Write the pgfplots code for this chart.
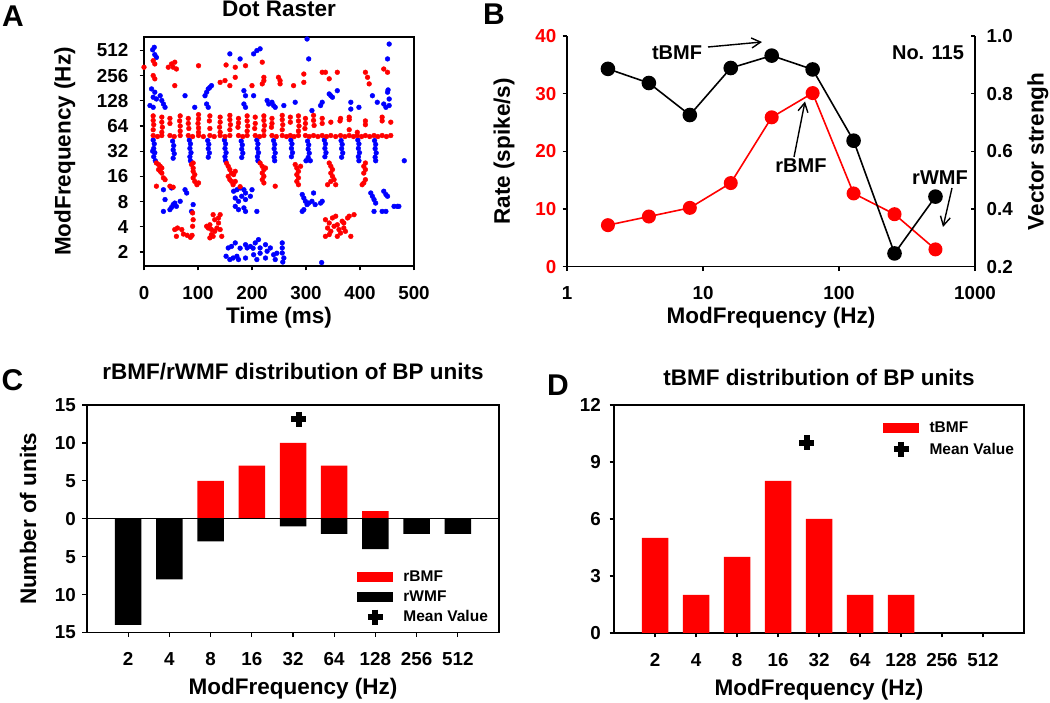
\documentclass[border=0pt]{standalone}
\usepackage{fontspec}
\setmainfont{Liberation Sans}
\usepackage{pgfplots}
\pgfplotsset{compat=1.18}
\usetikzlibrary{arrows.meta}

\newcommand{\ftick}{\fontsize{18.8}{20}\selectfont\bfseries}
\newcommand{\flab}{\fontsize{22.5}{25}\selectfont\bfseries}
\newcommand{\fann}{\fontsize{20}{22}\selectfont\bfseries}
\newcommand{\fleg}{\fontsize{15.5}{17}\selectfont\bfseries}
\newcommand{\fpanel}{\fontsize{30}{32}\selectfont\bfseries}

\pgfplotsset{
 base/.style={
  scale only axis, anchor=south west,
  axis line style={line width=1.5pt},
  tick align=outside, tick pos=left,
  major tick length=4.5pt,
  every tick/.style={black, line width=1.3pt},
  tick label style={font=\ftick, /pgf/number format/assume math mode=true, inner sep=0pt},
  xticklabel style={anchor=north, text height=13pt, text depth=0pt, yshift=-15.5pt},
  title style={font=\flab, anchor=center},
  label style={font=\flab},
  xlabel style={anchor=center},
  ylabel style={anchor=center},
 },
 barleg/.style={legend image code/.code={\fill[##1,draw=none] (0pt,-5pt) rectangle (36pt,5pt); \path (0pt,-7pt) (46pt,7pt);}},
 markleg/.style={legend image code/.code={\begin{pgfinterruptboundingbox}\draw[##1] plot coordinates {(18pt,0pt)};\end{pgfinterruptboundingbox}\path (0pt,-7pt) (46pt,7pt);}},
}

\begin{document}
\begin{tikzpicture}
\path[use as bounding box] (0pt,0pt) rectangle (1050pt,703pt);

%================ Panel A =================
\begin{axis}[base,
  at={(144pt,437pt)}, width=270pt, height=229pt,
  xmin=0, xmax=500, ymin=0.444, ymax=9.53,
  xtick={0,100,...,500},
  ytick={1,...,9}, yticklabels={2,4,8,16,32,64,128,256,512},
  yticklabel style={anchor=east, xshift=-11pt},
  title={Dot Raster}, xlabel={Time (ms)}, ylabel={ModFrequency (Hz)},
  title style={at={(axis description cs:0.5,1.096)}},
  xlabel style={at={(axis description cs:0.5,-0.227)}},
  ylabel style={at={(axis description cs:-0.293,0.5)}},
]
% blue spikes (2, 8, 32, 128, 512 Hz)
\addplot[only marks, mark=*, mark size=2.4pt, blue, mark options={draw=blue, fill=blue}] coordinates {
(156,1.16)(162,1.22)(152,0.83)(159,0.70)(165,0.76)(169,1.36)(188,1.29)(191,1.16)(197,1.22)(206,1.36)
(212,1.49)(215,1.16)(225,1.29)(228,1.03)(234,1.16)(240,0.89)(256,1.36)(256,1.16)(256,0.96)(259,0.76)
(172,0.83)(175,0.70)(188,0.76)(203,0.89)(209,0.70)(225,0.76)(243,0.70)(329,0.58)(178,1.15)(202,1.15)
(215,0.95)(246,0.95)(257,0.60)
(36,3.47)(51,3.54)(76,3.47)(79,3.34)(39,3.08)(36,2.61)(48,2.68)(51,2.77)(54,2.88)(57,2.94)
(60,2.81)(67,3.01)(88,2.61)(91,2.88)(166,3.41)(172,3.47)(178,3.54)(185,3.47)(188,3.34)(169,3.14)
(175,3.01)(181,3.21)(188,3.08)(197,3.21)(200,3.47)(169,2.81)(175,2.68)(185,2.75)(188,2.61)(209,2.61)
(293,3.28)(296,3.14)(299,3.01)(302,2.88)(305,2.94)(311,3.01)(314,3.34)(317,2.88)(327,2.94)(330,3.01)
(296,2.68)(293,2.61)(420,3.34)(423,3.21)(426,3.08)(429,2.94)(426,2.61)(441,2.61)(444,3.41)(448,3.28)
(448,2.61)(463,2.81)(469,2.81)(472,2.81)(451,3.21)
(17,5.44)(19,5.29)(18,5.11)(20,4.94)(18,4.78)(21,4.62)(16,5.00)
(53,5.40)(55,5.22)(54,5.05)(56,4.90)(54,4.72)
(84,5.44)(86,5.29)(85,5.11)(87,4.94)(85,4.78)(86,4.62)
(118,5.42)(120,5.27)(119,5.10)(121,4.93)(119,4.76)
(149,5.44)(151,5.29)(150,5.11)(152,4.94)(150,4.78)(151,4.62)
(180,5.40)(182,5.25)(181,5.08)(183,4.92)(181,4.75)
(209,5.44)(211,5.29)(210,5.11)(212,4.94)(210,4.78)(211,4.62)
(240,5.42)(242,5.27)(241,5.10)(243,4.93)(241,4.76)(242,4.62)
(272,5.44)(274,5.29)(273,5.11)(275,4.94)(273,4.78)
(303,5.40)(305,5.25)(304,5.08)(306,4.92)(304,4.75)(300,4.62)(308,4.62)
(334,5.44)(336,5.29)(335,5.11)(337,4.94)(335,4.78)
(365,5.42)(367,5.27)(366,5.10)(368,4.93)(366,4.76)
(396,5.44)(398,5.29)(397,5.11)(399,4.94)(397,4.78)(398,4.62)
(427,5.42)(429,5.27)(428,5.10)(430,4.93)(428,4.76)(429,4.62)
(482,4.62)
(14,7.47)(20,7.34)(17,7.14)(23,7.07)(30,7.20)(33,7.01)(36,6.87)(39,6.74)(11,6.81)(17,6.74)
(76,7.20)(94,6.74)(113,7.20)(116,7.34)(119,7.47)(122,7.53)(125,7.60)(116,6.87)(119,6.74)(185,7.40)
(188,7.20)(185,6.87)(188,6.74)(203,7.20)(228,7.01)(231,6.87)(237,6.94)(240,6.81)(243,6.74)(259,6.81)
(280,6.94)(311,6.61)(327,6.81)(330,6.94)(358,7.40)(346,7.20)(349,7.14)(343,7.27)(383,6.94)(383,6.67)
(398,6.74)(423,7.20)(432,6.94)(444,6.87)(448,6.74)(454,6.81)(451,7.34)(454,7.07)(452,7.43)
(19,9.12)(16,9.02)(20,8.83)(23,8.72)(159,8.86)(178,8.66)(203,8.86)(209,8.99)(215,9.06)(302,9.45)
(305,8.66)(454,9.25)(451,8.66)
};
% red spikes (4, 16, 64, 256 Hz)
\addplot[only marks, mark=*, mark size=2.4pt, red, mark options={draw=red, fill=red}] coordinates {
(57,1.89)(62,1.95)(70,1.89)(60,1.62)(73,1.71)(80,1.66)(86,1.58)(89,1.66)(90,2.02)(91,2.28)
(90,2.55)(116,2.02)(119,1.95)(122,2.08)(125,1.89)(125,1.69)(128,1.62)(122,1.56)(131,1.82)(135,1.95)
(138,2.15)(138,2.35)(141,2.48)(141,1.89)(144,1.62)(131,2.28)(128,2.48)
(336,2.28)(343,2.15)(349,2.35)(355,2.42)(340,1.95)(346,1.82)(352,2.02)(358,2.08)(361,1.89)(364,1.75)
(367,2.22)(370,1.95)(373,1.82)(377,2.35)(380,2.42)(383,1.62)(389,2.48)(336,1.62)(343,1.69)(358,1.62)
(370,2.15)
(23,4.53)(27,4.47)(30,4.40)(33,4.33)(27,4.27)(30,4.20)(33,4.13)(36,3.94)(39,3.87)(23,3.61)
(48,3.61)(54,3.57)
(88,4.47)(91,4.33)(91,4.20)(94,4.07)(91,3.94)(94,3.80)(98,3.67)(101,3.74)(91,4.53)
(156,4.40)(159,4.27)(162,4.13)(156,4.00)(159,3.87)(162,3.80)(165,3.67)(169,4.20)(166,4.07)(169,3.80)
(178,3.59)(153,4.52)
(215,4.53)(219,4.40)(222,4.27)(219,4.13)(222,4.00)(219,3.87)(222,3.74)(225,4.33)(243,3.61)
(280,4.47)(283,4.33)(286,4.20)(283,4.07)(286,3.94)(283,3.80)(286,3.67)(290,4.40)
(343,4.53)(346,4.40)(349,4.27)(346,4.13)(349,4.00)(352,3.87)(346,3.80)(355,3.67)(340,3.67)
(410,4.53)(407,4.40)(410,4.27)(407,4.13)(410,3.87)(407,3.74)(404,3.67)
(17,6.40)(17,6.22)(18,6.05)(17,5.85)(17,5.62)
(33,6.35)(33,6.15)(34,5.95)(33,5.75)(33,5.62)
(48,6.30)(48,6.10)(48,5.62)
(67,6.40)(66,6.20)(67,6.00)(67,5.80)(67,5.62)
(82,6.30)(82,6.10)(83,5.90)(82,5.62)
(101,6.45)(101,6.28)(100,6.10)(101,5.92)(101,5.75)(101,5.62)
(122,6.40)(121,6.20)(122,5.90)(122,5.62)
(141,6.35)(141,6.15)(140,5.95)(141,5.75)(141,5.62)
(159,6.42)(159,6.25)(160,6.05)(159,5.85)(159,5.62)
(175,6.30)(175,6.12)(174,5.95)(175,5.62)
(191,6.40)(191,6.20)(192,6.00)(191,5.80)(191,5.62)
(206,6.35)(206,6.10)(205,5.90)(206,5.62)
(222,6.40)(222,6.22)(223,6.02)(222,5.82)(222,5.62)
(237,6.30)(237,6.10)(236,5.95)(237,5.62)
(256,6.42)(256,6.25)(257,6.05)(256,5.85)(256,5.62)
(271,6.35)(271,6.15)(271,5.62)
(286,6.40)(286,6.20)(287,6.00)(286,5.80)(286,5.62)
(299,6.30)(299,6.10)(298,5.90)(299,5.62)
(314,6.42)(314,6.22)(315,6.02)(314,5.62)
(330,6.30)(330,6.10)(330,5.62)
(346,6.15)(346,5.62)
(364,6.30)(363,6.20)(364,5.62)
(380,6.35)(380,6.25)(380,5.85)(380,5.62)
(395,5.75)(395,5.62)
(410,6.20)(410,6.05)(410,5.62)
(426,5.62)
(441,6.35)(441,6.20)(441,5.62)
(457,6.15)(457,5.62)
(25,5.58)(56,5.58)(90,5.58)(110,5.58)(130,5.58)(150,5.58)(183,5.58)(214,5.58)(245,5.58)(264,5.58)
(278,5.58)(306,5.58)(322,5.58)(338,5.58)(355,5.58)(372,5.58)(388,5.58)(403,5.58)(418,5.58)(433,5.58)
(449,5.58)
(0,8.33)(17,8.59)(20,8.46)(17,8.00)(20,7.87)(45,8.33)(51,8.46)(54,8.33)(57,8.53)(60,8.26)
(101,8.39)(57,7.60)(141,7.73)(150,7.80)(159,7.60)(152,8.42)(169,8.33)(188,8.39)(169,7.93)(200,7.60)
(219,8.53)(222,7.93)(222,7.80)(219,7.67)(249,7.93)(252,7.80)(252,7.67)(277,7.60)(296,8.06)(296,7.73)
(330,8.13)(336,8.13)(343,7.87)(358,8.13)(410,8.13)(414,7.93)(417,7.67)(444,8.26)(451,8.13)
};
\end{axis}

%================ Panel B =================
\begin{axis}[base,
  at={(567pt,436.3pt)}, width=408pt, height=230.7pt,
  xmode=log, xmin=1, xmax=1000, ymin=0, ymax=40,
  axis x line*=bottom, axis y line*=left,
  xtick={1,10,100,1000}, xticklabels={1,10,100,1000}, xminorticks=false,
  ytick={0,10,...,40},
  yticklabel style={anchor=east, xshift=-6pt, text=red},
  xlabel={ModFrequency (Hz)}, ylabel={Rate (spike/s)},
  xlabel style={at={(axis description cs:0.5,-0.221)}},
  ylabel style={at={(axis description cs:-0.154,0.5)}},
]
\addplot[red, line width=1.6pt, mark=*, mark size=6.2pt, mark options={fill=red, draw=red}] coordinates {
(2,7.2)(4,8.7)(8,10.2)(16,14.5)(32,25.9)(64,30.1)(128,12.7)(256,9.1)(512,3.0)};
\end{axis}
\begin{axis}[base,
  at={(567pt,436.3pt)}, width=408pt, height=230.7pt,
  xmode=log, xmin=1, xmax=1000, ymin=0.2, ymax=1.0,
  axis x line=none, axis y line*=right, tick align=inside,
  ytick pos=right, yticklabel pos=right,
  ytick={0.2,0.4,...,1.0}, xminorticks=false,
  yticklabel style={anchor=west, xshift=11.5pt, /pgf/number format/.cd, fixed, fixed zerofill, precision=1},
  ylabel={Vector strengh},
  ylabel style={at={(axis description cs:1.154,0.5)}},
]
\addplot[black, line width=1.6pt, mark=*, mark size=6.5pt, mark options={fill=black, draw=black}] coordinates {
(2,0.886)(4,0.837)(8,0.726)(16,0.889)(32,0.932)(64,0.884)(128,0.637)(256,0.246)(512,0.443)};
\end{axis}

%================ Panel C =================
\begin{axis}[base,
  at={(87pt,70.5pt)}, width=412pt, height=227.5pt,
  xmin=-1, xmax=9, ymin=-15, ymax=15,
  xtick={0,...,8}, xticklabels={2,4,8,16,32,64,128,256,512},
  ytick={-15,-10,...,15}, yticklabels={15,10,5,0,5,10,15},
  yticklabel style={anchor=east, xshift=-6.5pt},
  title={rBMF/rWMF distribution of BP units}, xlabel={ModFrequency (Hz)}, ylabel={Number of units},
  title style={at={(axis description cs:0.5,1.119)}},
  xlabel style={at={(axis description cs:0.5,-0.245)}},
  ylabel style={at={(axis description cs:-0.143,0.5)}},
  legend style={at={(axis description cs:0.655,0.276)}, anchor=north west, draw=none, fill=none,
    font=\fleg, inner sep=0pt, row sep=6pt, nodes={inner sep=0pt}},
  legend cell align=left,
]
\addplot[ybar, bar width=26.5pt, bar shift=0pt, fill=red, draw=none, barleg] coordinates {
(2,5)(3,7)(4,10)(5,7)(6,1)};
\addlegendentry{rBMF}
\addplot[ybar, bar width=26.5pt, bar shift=0pt, fill=black, draw=none, barleg] coordinates {
(0,-14)(1,-8)(2,-3)(4,-1)(5,-2)(6,-4)(7,-2)(8,-2)};
\addlegendentry{rWMF}
\addplot[only marks, black, mark=+, mark size=7.5pt, mark options={line width=6pt}, markleg] coordinates {(4.14,13.1)};
\addlegendentry{Mean Value}
\draw[line width=1.3pt] (axis cs:-1,0) -- (axis cs:9,0);
\end{axis}

%================ Panel D =================
\begin{axis}[base,
  at={(614pt,70pt)}, width=410pt, height=228pt,
  xmin=-1, xmax=9, ymin=0, ymax=12,
  xtick={0,...,8}, xticklabels={2,4,8,16,32,64,128,256,512},
  ytick={0,3,...,12},
  yticklabel style={anchor=east, xshift=-8.5pt},
  title={tBMF distribution of BP units}, xlabel={ModFrequency (Hz)},
  title style={at={(axis description cs:0.5,1.096)}},
  xlabel style={at={(axis description cs:0.5,-0.25)}},
  legend style={at={(axis description cs:0.656,0.93)}, anchor=north west, draw=none, fill=none,
    font=\fleg, inner sep=0pt, row sep=7pt, nodes={inner sep=0pt}},
  legend cell align=left,
]
\addplot[ybar, bar width=26.5pt, bar shift=0pt, fill=red, draw=none, barleg] coordinates {
(0,5)(1,2)(2,4)(3,8)(4,6)(5,2)(6,2)};
\addlegendentry{tBMF}
\addplot[only marks, black, mark=+, mark size=7.5pt, mark options={line width=6pt}, markleg] coordinates {(3.70,10.0)};
\addlegendentry{Mean Value}
\end{axis}

%================ panel letters and annotations =================
\node[font=\fpanel] at (13pt,687pt) {A};
\node[font=\fpanel] at (494pt,689pt) {B};
\node[font=\fpanel] at (12.5pt,323pt) {C};
\node[font=\fpanel] at (558pt,318pt) {D};

\node[font=\fann] at (677pt,650.2pt) {tBMF};
\draw[line width=1.4pt, -{Straight Barb[length=9pt,width=10pt,line width=1.4pt]}] (708pt,656pt) -- (762pt,661pt);
\node[font=\fann] at (928pt,650pt) {No. 115};
\node[font=\fann] at (801pt,537.7pt) {rBMF};
\draw[line width=1.4pt, -{Straight Barb[length=9pt,width=10pt,line width=1.4pt]}] (794pt,546pt) -- (805pt,601.5pt);
\node[font=\fann] at (940pt,525pt) {rWMF};
\draw[line width=1.4pt, -{Straight Barb[length=9pt,width=10pt,line width=1.4pt]}] (952pt,515pt) -- (943pt,476pt);
\end{tikzpicture}
\end{document}
